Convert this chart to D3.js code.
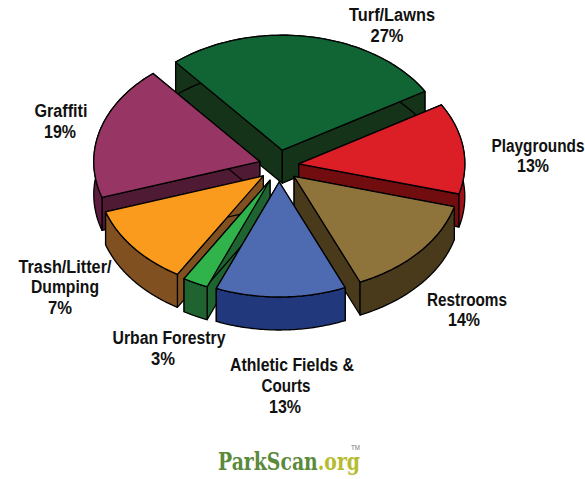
<!DOCTYPE html>
<html>
<head>
<meta charset="utf-8">
<script src="https://d3js.org/d3.v7.min.js"></script>
<style>
  html, body { margin: 0; padding: 0; background: #fff; }
  svg { display: block; }
  .lbl { font-family: "Liberation Sans", sans-serif; font-weight: bold; font-size: 18px; fill: #111; }
  .logo { font-family: "DejaVu Serif", serif; font-weight: bold; font-size: 24px; }
</style>
</head>
<body>
<div id="chart-area"></div>
<script>
// slice sizes as drawn in the picture, clockwise from the upper left
const categories = ["Turf/Lawns", "Playgrounds", "Restrooms", "Athletic Fields & Courts", "Urban Forestry", "Trash/Litter/Dumping", "Graffiti"];
const drawnShares = [27.8, 12.9, 14.4, 12.8, 2.5, 11.4, 19.1];
const percentLabels = ["27%", "13%", "14%", "13%", "3%", "7%", "19%"];

const topColors = ["#116535", "#dc1f26", "#8e733b", "#4e6ab0", "#2fb34a", "#fa9b1e", "#973565"];
const wallColors = ["#153318", "#710d0f", "#4a3a1c", "#22387c", "#1f6430", "#805020", "#4f1a33"];
const rimColors = ["#153318", "#a0121a", "#4a3a1c", "#22387c", "#1f6430", "#805020", "#5e1c3f"];

const width = 585, height = 479;
const cx = 279, cy = 166, rx = 166, ry = 115, depth = 33;
const explodeX = 20, explodeY = 16;

const svg = d3.select("#chart-area").append("svg")
    .attr("width", width)
    .attr("height", height);

const toRad = d => d * Math.PI / 180;
const pie = d3.pie().sort(null).startAngle(toRad(-40)).endAngle(toRad(320));
const arcs = pie(drawnShares);

const x = d3.scaleLinear().domain([-1, 1]).range([-rx, rx]);
const y = d3.scaleLinear().domain([-1, 1]).range([-ry, ry]);

const line = d3.line();

// back slices first, front ones paint over them
const drawOrder = [0, 1, 6, 2, 5, 4, 3];

drawOrder.forEach(i => {
    const a = arcs[i];
    const mid = (a.startAngle + a.endAngle) / 2;
    const ax = cx + explodeX * Math.sin(mid);
    const ay = cy - explodeY * Math.cos(mid);
    const rim = t => [ax + x(Math.sin(t)), ay + y(-Math.cos(t))];
    const steps = d3.range(0, 61).map(k => a.startAngle + (a.endAngle - a.startAngle) * k / 60);
    const rimPts = steps.map(rim);
    const down = p => [p[0], p[1] + depth];

    const g = svg.append("g").attr("class", "slice");
    const stroke = s => s.attr("stroke", "#000").attr("stroke-width", 1.3).attr("stroke-linejoin", "round");

    // cut walls
    [rimPts[0], rimPts[60]].forEach(p => {
        g.append("path")
            .attr("d", line([[ax, ay], p, down(p), [ax, ay + depth]]) + "Z")
            .attr("fill", wallColors[i])
            .call(stroke);
    });
    // outer band
    g.append("path")
        .attr("d", line(rimPts.concat(rimPts.map(down).reverse())) + "Z")
        .attr("fill", rimColors[i])
        .call(stroke);
    // top face
    g.append("path")
        .attr("d", line([[ax, ay]].concat(rimPts)) + "Z")
        .attr("fill", topColors[i])
        .call(stroke);
});

// text lines: [text, centre x, baseline y, width on the page]
const labelLines = [
    [categories[0], 392, 21, 86], [percentLabels[0], 387, 42, 33],
    [categories[1], 538, 152, 93], [percentLabels[1], 533, 172, 32],
    [categories[2], 467, 306, 80], [percentLabels[2], 464, 326, 32],
    ["Athletic Fields &", 292, 371, 124], ["Courts", 286, 392, 49], [percentLabels[3], 285, 413, 32],
    [categories[4], 169, 344, 113], [percentLabels[4], 163, 365, 24],
    ["Trash/Litter/", 65, 273, 93], ["Dumping", 65, 293, 68], [percentLabels[5], 60, 314, 24],
    [categories[6], 61, 117, 53], [percentLabels[6], 60, 138, 32]
];

svg.selectAll("text.lbl")
    .data(labelLines)
    .enter().append("text")
    .attr("class", "lbl")
    .attr("text-anchor", "middle")
    .attr("x", d => d[1])
    .attr("y", d => d[2])
    .attr("textLength", d => d[3])
    .attr("lengthAdjust", "spacingAndGlyphs")
    .text(d => d[0]);

// logo
const logo = svg.append("text")
    .attr("class", "logo")
    .attr("x", 218).attr("y", 470)
    .attr("textLength", 142)
    .attr("lengthAdjust", "spacingAndGlyphs");
logo.append("tspan").attr("fill", "#5b8a3c").text("ParkScan");
logo.append("tspan").attr("fill", "#b5bd2e").text(".org");

svg.append("text")
    .attr("x", 351).attr("y", 450)
    .attr("textLength", 9)
    .attr("lengthAdjust", "spacingAndGlyphs")
    .attr("fill", "#777")
    .style("font-family", "'Liberation Sans', sans-serif")
    .style("font-size", "7px")
    .text("TM");
</script>
</body>
</html>
